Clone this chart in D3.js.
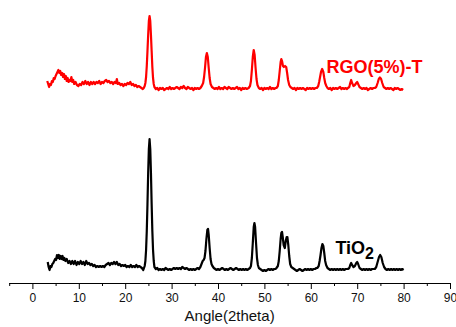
<!DOCTYPE html>
<html>
<head>
<meta charset="utf-8">
<script src="https://cdn.jsdelivr.net/npm/d3@7"></script>
<style>
  html, body { margin: 0; padding: 0; background: #fff; }
  svg text { font-family: "Liberation Sans", Arial, sans-serif; }
</style>
</head>
<body>
<svg id="chart" width="456" height="327"></svg>
<script>
// ---- data (2theta, intensity a.u.; RGO curve is drawn with its stacking offset included) ----
const tio2 = [
 [3.3,21],[3.5,16],[3.7,13],[3.9,17],[4.1,16],[4.3,19],[4.5,20],[4.7,22],[4.9,24],[5.1,23],[5.3,28],[5.5,25],[5.7,28],[5.9,24],
 [6.1,27],[6.3,24],[6.5,27],[6.7,23],[6.9,25],[7.1,22],[7.4,24],[7.7,20],[8.0,22],[8.3,19],[8.6,22],[8.9,19],[9.2,22],[9.5,18],
 [9.8,21],[10.1,19],[10.4,22],[10.7,19],[11.0,21],[11.3,18],[11.6,22],[11.9,19],[12.2,20],[12.5,18],[12.8,19],[13.1,17],[13.4,18],
 [13.7,16],[14.0,17],[14.3,16],[14.6,17],[14.9,16],[15.2,17],[15.5,16],[15.8,18],[16.1,19],[16.4,20],[16.7,18],[17.0,20],[17.3,19],
 [17.6,21],[17.9,19],[18.2,21],[18.5,18],[18.8,19],[19.1,17],[19.4,18],[19.7,17],[20.0,18],[20.3,16],[20.6,17],[20.9,16],[21.2,18],
 [21.5,16],[21.8,17],[22.1,16],[22.4,18],[22.7,16],[23.0,17],[23.3,16],[23.6,15],[23.9,13],
 [24.2,17],[24.35,22],[24.5,33],[24.65,52],[24.8,79],[24.95,110],[25.1,134],[25.25,144],[25.4,134],[25.55,110],[25.7,79],
 [25.85,52],[26.0,33],[26.15,22],[26.3,16],
 [26.6,14],[26.9,15],[27.2,13],[27.5,14],[27.8,13],[28.1,14],[28.4,13],[28.7,15],[29.0,14],[29.3,13],[29.6,14],[29.9,13],[30.2,14],
 [30.5,15],[30.8,14],[31.1,15],[31.4,14],[31.7,15],[32.0,14],[32.3,16],[32.6,15],[32.9,14],[33.2,15],[33.5,14],[33.8,13],[34.1,14],
 [34.4,13],[34.7,14],[35.0,13],[35.3,14],[35.6,15],[35.9,14],[36.2,16],
 [36.45,19],[36.7,22],[36.9,23],[37.1,25],[37.3,32],[37.5,44],[37.7,53],[37.85,54],[38.0,48],[38.2,35],[38.4,24],[38.6,19],[38.8,17],[39.1,15],
 [39.4,14],[39.7,13],[40.0,14],[40.3,13],[40.6,14],[40.9,15],[41.2,14],[41.5,13],[41.8,14],[42.1,13],[42.4,14],[42.7,15],[43.0,14],
 [43.3,13],[43.6,14],[43.9,15],[44.2,14],[44.5,13],[44.8,14],[45.1,13],[45.4,14],[45.7,13],[46.0,14],[46.3,13],[46.6,14],
 [46.9,15],[47.1,17],[47.3,25],[47.5,40],[47.7,56],[47.85,60],[48.0,56],[48.2,40],[48.4,25],[48.6,18],[48.8,15],
 [49.1,14],[49.4,13],[49.7,12],[50.0,13],[50.3,12],[50.6,13],[50.9,14],[51.2,13],[51.5,14],[51.8,13],[52.1,14],[52.4,14],
 [52.6,15],[52.9,17],[53.1,22],[53.3,32],[53.5,44],[53.65,50],[53.8,51],[53.95,46],[54.15,38],[54.4,35],[54.6,42],[54.8,46],
 [54.95,46],[55.15,38],[55.35,27],[55.55,19],[55.8,16],[56.1,15],
 [56.4,14],[56.7,13],[57.0,12],[57.3,13],[57.6,14],[57.9,13],[58.2,12],[58.5,13],[58.8,14],[59.1,13],[59.4,14],[59.7,13],[60.0,14],
 [60.3,13],[60.6,14],[60.9,14],[61.2,15],
 [61.4,15],[61.7,17],[61.9,22],[62.1,28],[62.3,35],[62.5,39],[62.7,37],[62.9,30],[63.1,22],[63.3,18],[63.6,15],
 [63.9,14],[64.2,13],[64.5,14],[64.8,13],[65.1,14],[65.4,13],[65.7,14],[66.0,13],[66.3,14],[66.6,13],[66.9,14],[67.2,13],[67.5,14],[67.8,14],
 [68.0,14],[68.3,15],[68.5,18],[68.7,20],[68.9,18],[69.2,16],[69.5,17],[69.8,20],[70.0,21],[70.2,19],[70.5,15],[70.8,14],
 [71.1,13],[71.4,14],[71.7,13],[72.0,14],[72.3,13],[72.6,14],[72.9,13],[73.2,14],[73.5,14],
 [73.8,14],[74.1,16],[74.4,21],[74.7,26],[74.95,28],[75.2,26],[75.5,20],[75.8,16],[76.1,14],
 [76.4,13],[76.7,14],[77.0,13],[77.3,14],[77.6,13],[77.9,14],[78.2,13],[78.5,14],[78.8,13],[79.1,14],[79.4,13],[79.7,14],[80.0,13]
];

const rgo = [
 [3.2,202],[3.4,199],[3.6,196],[3.8,199],[4.0,198],[4.2,202],[4.4,201],[4.6,205],[4.8,204],[5.0,207],[5.2,209],[5.4,211],[5.6,213],
 [5.8,210],[6.0,212],[6.2,208],[6.4,210],[6.6,206],[6.8,209],[7.0,204],[7.2,207],[7.4,202],[7.6,205],[7.8,201],[8.0,203],[8.2,202],
 [8.4,206],[8.6,201],[8.8,203],[9.0,199],[9.3,201],[9.6,198],[9.9,197],[10.2,199],[10.5,198],[10.8,201],[11.1,199],[11.4,202],
 [11.7,199],[12.0,201],[12.3,198],[12.6,201],[12.9,199],[13.2,201],[13.5,199],[13.8,201],[14.1,200],[14.4,202],[14.7,199],[15.0,201],
 [15.3,200],[15.6,202],[15.9,203],[16.2,201],[16.5,202],[16.8,200],[17.1,201],[17.4,199],[17.7,201],[18.0,200],[18.2,204],[18.4,199],
 [18.7,200],[19.0,198],[19.3,199],[19.6,197],[19.9,199],[20.2,198],[20.5,200],[20.8,199],[21.1,201],[21.4,198],[21.7,199],[22.0,197],
 [22.3,198],[22.6,196],[22.9,197],[23.2,196],[23.5,195],[23.8,194],[24.0,195],
 [24.2,197],[24.35,200],[24.5,206],[24.65,217],[24.8,232],[24.95,248],[25.1,262],[25.25,267],[25.4,262],[25.55,248],[25.7,232],
 [25.85,216],[26.0,205],[26.15,199],[26.3,196],
 [26.6,194],[26.9,195],[27.2,193],[27.5,195],[27.8,194],[28.1,195],[28.4,193],[28.7,194],[29.0,195],[29.3,194],[29.6,196],[29.9,194],
 [30.2,195],[30.5,194],[30.8,195],[31.1,196],[31.4,195],[31.7,194],[32.0,196],[32.3,195],[32.6,197],[32.9,195],[33.2,194],[33.5,196],
 [33.8,195],[34.1,194],[34.4,195],[34.7,193],[35.0,195],[35.3,194],[35.6,195],[35.9,194],
 [36.2,195],[36.5,197],[36.8,200],[37.0,206],[37.2,215],[37.4,226],[37.6,230],[37.8,226],[38.0,215],[38.2,205],[38.4,199],[38.7,196],[39.0,195],
 [39.3,194],[39.6,195],[39.9,194],[40.2,196],[40.5,194],[40.8,195],[41.1,194],[41.4,196],[41.7,195],[42.0,194],[42.3,196],[42.6,195],
 [42.9,194],[43.2,195],[43.5,194],[43.8,195],[44.1,196],[44.4,194],[44.7,195],[45.0,193],[45.3,195],[45.6,194],[45.9,195],[46.2,194],
 [46.6,195],[46.9,197],[47.1,202],[47.3,213],[47.5,226],[47.7,233],[47.9,228],[48.1,215],[48.3,204],[48.5,198],[48.8,195],
 [49.1,194],[49.4,195],[49.7,193],[50.0,195],[50.3,194],[50.6,195],[50.9,194],[51.2,196],[51.5,194],[51.8,195],[52.1,194],[52.4,195],
 [52.6,195],[52.9,197],[53.1,203],[53.3,212],[53.5,221],[53.65,224],[53.8,222],[54.0,217],[54.2,216],[54.45,217],[54.7,216],
 [54.9,210],[55.1,203],[55.35,198],[55.6,196],[55.9,195],
 [56.2,194],[56.5,195],[56.8,193],[57.1,195],[57.4,194],[57.7,195],[58.0,194],[58.3,195],[58.6,194],[58.9,193],[59.2,195],[59.5,194],
 [59.8,195],[60.1,194],[60.4,195],[60.7,194],[61.0,195],
 [61.3,195],[61.6,197],[61.8,201],[62.0,206],[62.2,211],[62.45,214],[62.7,211],[62.9,205],[63.1,200],[63.35,197],[63.6,195],
 [63.9,194],[64.2,195],[64.5,193],[64.8,195],[65.1,194],[65.4,195],[65.7,194],[66.0,195],[66.3,196],[66.6,194],[66.9,195],[67.2,194],
 [67.5,195],[67.8,194],
 [68.0,195],[68.3,196],[68.5,200],[68.7,203],[68.9,200],[69.2,197],[69.5,198],[69.8,200],[70.0,201],[70.2,199],[70.5,196],[70.8,195],
 [71.1,194],[71.4,195],[71.7,194],[72.0,195],[72.3,193],[72.6,194],[72.9,195],[73.2,194],[73.5,195],
 [73.8,195],[74.1,196],[74.4,200],[74.65,204],[74.9,205.5],[75.15,204],[75.4,200],[75.7,196],[76.0,195],
 [76.3,194],[76.6,195],[76.9,194],[77.2,195],[77.5,194],[77.8,193],[78.1,195],[78.4,194],[78.7,195],[79.0,194],[79.3,193],[79.6,194],[79.9,193]
];

const majorTicks = [0, 10, 20, 30, 40, 50, 60, 70, 80, 90];
const minorTicks = [-5, 5, 15, 25, 35, 45, 55, 65, 75, 85];
const xTitle = "Angle(2theta)";
const labelRGO = "RGO(5%)-T";
const labelTiO2 = ["TiO", "2"];

// ---- layout ----
const svg = d3.select("#chart");
const x = d3.scaleLinear().domain([-5, 90]).range([9.2, 450]);
const y = d3.scaleLinear().domain([0, 283]).range([283, 0]);
const axisY = 283;

const line = d3.line().x(d => x(d[0])).y(d => y(d[1]));

svg.append("path").datum(tio2)
  .attr("d", line).attr("fill", "none").attr("stroke", "#000")
  .attr("stroke-width", 2.2).attr("stroke-linejoin", "round");

svg.append("path").datum(rgo)
  .attr("d", line).attr("fill", "none").attr("stroke", "#ff0000")
  .attr("stroke-width", 2.2).attr("stroke-linejoin", "round");

// axis
const gx = svg.append("g").attr("transform", `translate(0,${axisY})`);
gx.call(d3.axisBottom(x).tickValues(majorTicks).tickSize(6).tickPadding(4).tickFormat(d3.format("d")));
gx.select(".domain").attr("stroke", "#000").attr("d", `M${x(-5)},0.5H${x(90)}`);
gx.selectAll(".tick line").attr("stroke", "#000");
gx.selectAll(".tick text").attr("font-size", 12).attr("fill", "#111")
  .style("font-family", '"Liberation Sans", Arial, sans-serif');
const gm = svg.append("g").attr("transform", `translate(0,${axisY})`);
gm.call(d3.axisBottom(x).tickValues(minorTicks).tickSize(3).tickFormat(""));
gm.select(".domain").remove();
gm.selectAll(".tick line").attr("stroke", "#000");

svg.append("text")
  .attr("x", (x(-5) + x(90)) / 2).attr("y", 321)
  .attr("text-anchor", "middle").attr("font-size", 15).attr("fill", "#111")
  .text(xTitle);

// labels
svg.append("text")
  .attr("x", x(63.4)).attr("y", y(210))
  .attr("font-size", 18).attr("font-weight", "bold").attr("fill", "#ff0000")
  .text(labelRGO);

const t = svg.append("text")
  .attr("x", x(65.3)).attr("y", y(29))
  .attr("font-size", 18).attr("font-weight", "bold").attr("fill", "#000");
t.append("tspan").text(labelTiO2[0]);
t.append("tspan").attr("font-size", 16).attr("dy", 5).text(labelTiO2[1]);
</script>
</body>
</html>
